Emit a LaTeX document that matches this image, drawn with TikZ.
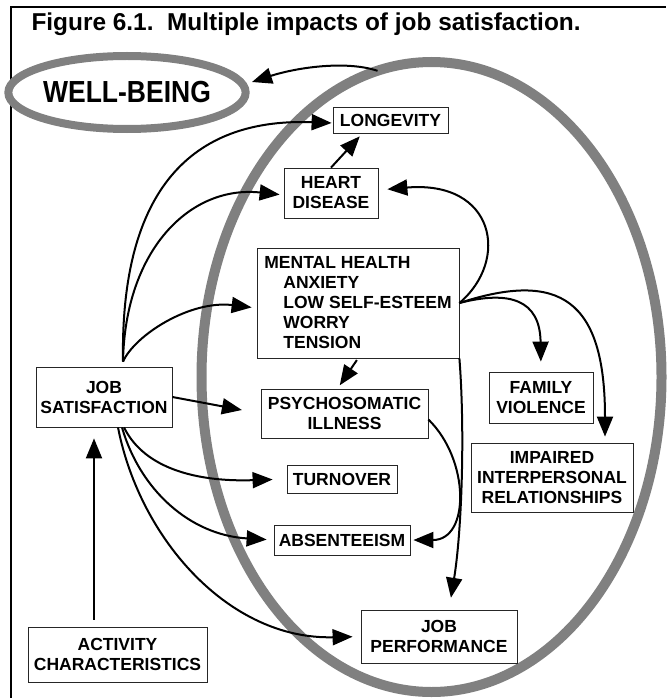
\documentclass[tikz,border=0pt]{standalone}
\usepackage{fontspec}
\setmainfont{Liberation Sans}
\usetikzlibrary{shapes.geometric,arrows.meta}

\definecolor{ringgray}{RGB}{128,128,128}
\newcommand{\figboxfont}{\fontsize{17.5}{20}\selectfont\bfseries}

\begin{document}
\begin{tikzpicture}[x=1pt,y=-1pt,
  box/.style={draw=black!85, line width=0.8pt, fill=white, align=center, inner sep=0pt, font=\figboxfont},
  ring/.style={draw=ringgray, ellipse, inner sep=0pt, outer sep=0pt},
  link/.style={line width=2pt, ->, >={Triangle[length=20pt,width=16pt]}}]

\useasboundingbox (0,0) rectangle (666,698);
\draw[line width=2.2pt] (11,698) -- (11,7) -- (666,7);

\node[anchor=base west, font=\fontsize{24.4}{28}\selectfont\bfseries] (title) at (28,31) {Figure 6.1.\ \ Multiple impacts of job satisfaction.};

\node[ring, line width=10pt, minimum width=460pt, minimum height=630pt] (bigring) at (431.5,377) {};
\node[ring, line width=8pt, minimum width=209pt, minimum height=73pt, font=\fontsize{26.5}{30}\selectfont\bfseries] (wellbeing) at (127,92.5) {\scalebox{1}[1.15]{WELL-BEING}};
\coordinate (wbtip) at (252,82);

\node[box, minimum width=115pt, minimum height=26pt] (long) at (390.5,120) {LONGEVITY};
\node[box, minimum width=94pt, minimum height=50pt] (heart) at (331,193) {HEART\\DISEASE};
\node[box, minimum width=202pt, minimum height=110pt, align=left] (mental) at (358,303) {MENTAL HEALTH\\\hspace*{19pt}ANXIETY\\\hspace*{19pt}LOW SELF-ESTEEM\\\hspace*{19pt}WORRY\\\hspace*{19pt}TENSION};
\node[box, minimum width=136pt, minimum height=60pt] (jobsat) at (104,397) {JOB\\SATISFACTION};
\node[box, minimum width=167pt, minimum height=49pt] (psycho) at (344.5,413.5) {PSYCHOSOMATIC\\ILLNESS};
\node[box, minimum width=104pt, minimum height=51pt] (family) at (541,397.5) {FAMILY\\VIOLENCE};
\node[box, minimum width=162pt, minimum height=69pt] (impaired) at (552,477.5) {IMPAIRED\\INTERPERSONAL\\RELATIONSHIPS};
\node[box, minimum width=110pt, minimum height=28pt] (turnover) at (342,479) {TURNOVER};
\node[box, minimum width=136pt, minimum height=30pt] (absent) at (342,540) {ABSENTEEISM};
\node[box, minimum width=179pt, minimum height=55pt] (activity) at (117.5,654.5) {ACTIVITY\\CHARACTERISTICS};
\node[box, minimum width=156pt, minimum height=53pt] (jobperf) at (439,636.5) {JOB\\PERFORMANCE};

\draw[link] (bigring.100) .. controls (345,60) and (295,68) .. (wbtip);

\draw[link, shorten >=1pt] ([xshift=19pt,yshift=5pt]jobsat.north) .. controls (120,180) and (200,118) .. ([yshift=-3pt]long.west);
\draw[link, shorten >=4pt] ([xshift=19pt,yshift=5pt]jobsat.north) .. controls (125,250) and (190,185) .. ([yshift=-2pt]heart.west);
\draw[link, shorten >=5pt] ([xshift=19pt,yshift=5pt]jobsat.north) .. controls (135,335) and (190,300) .. ([yshift=-5pt]mental.west);
\draw[link, shorten >=19pt] (jobsat.east) -- (psycho.west);
\draw[link, shorten >=14pt] ([xshift=20pt]jobsat.south) .. controls (145,470) and (200,482) .. (turnover.west);
\draw[link, shorten >=7pt] ([xshift=18pt]jobsat.south) .. controls (140,490) and (190,535) .. (absent.west);
\draw[link, shorten >=8pt] ([xshift=14pt]jobsat.south) .. controls (140,540) and (230,640) .. (jobperf.west);
\draw[link, shorten <=7pt, shorten >=11pt] ([xshift=-23.5pt]activity.north) -- ([xshift=-10pt]jobsat.south);

\draw[link, shorten >=4pt] (heart.north) -- ([xshift=-28pt]long.south);
\draw[link, shorten <=2pt, shorten >=4pt] (mental.south) -- ([xshift=-7pt]psycho.north);
\draw[link, shorten >=9pt] (mental.east) .. controls (510,260) and (495,180) .. ([yshift=3pt]heart.east);
\draw[link, shorten >=10pt] (mental.east) .. controls (510,290) and (540,300) .. (family.north);
\draw[link, shorten >=6pt] (mental.east) .. controls (560,270) and (605,300) .. ([xshift=53pt]impaired.north);
\draw[link, shorten >=12pt] (mental.south east) .. controls (465,430) and (462,530) .. ([xshift=10pt]jobperf.north);
\draw[link, shorten >=3pt] ([yshift=-6pt]psycho.east) .. controls (470,460) and (470,540) .. (absent.east);

\end{tikzpicture}
\end{document}
